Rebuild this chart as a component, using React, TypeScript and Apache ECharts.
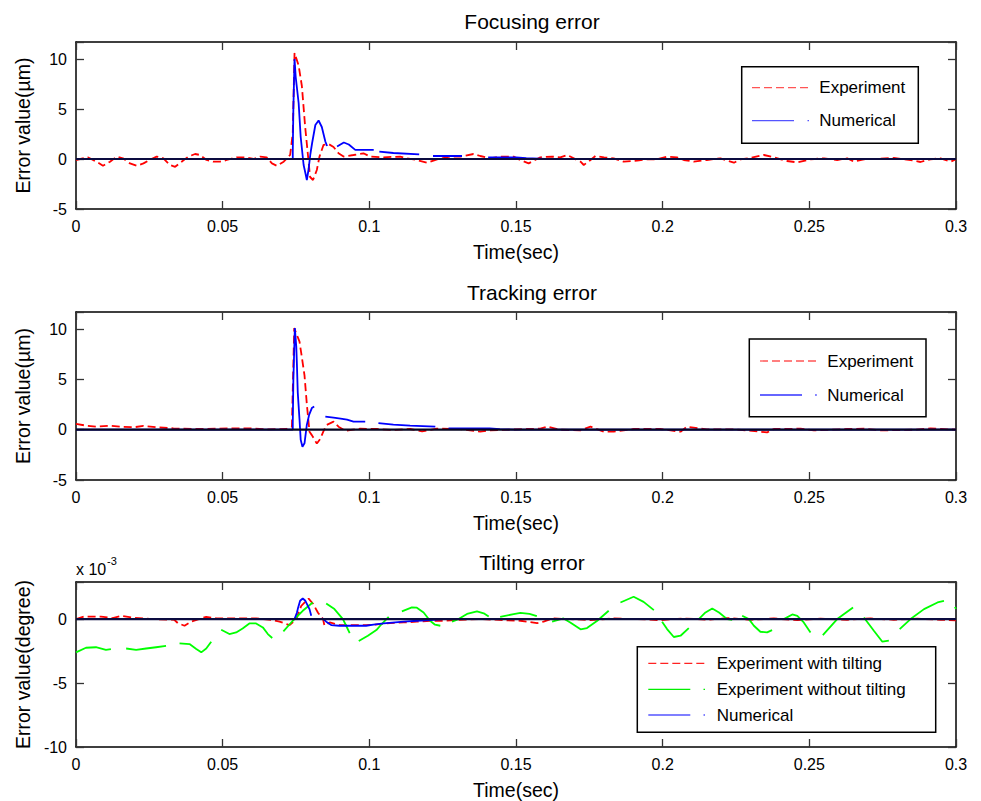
import { useEffect, useRef } from "react";
import * as echarts from "echarts";

const FONT = "'Liberation Sans', Arial, Helvetica, sans-serif";

// time axis (s)
const T_MIN = 0;
const T_MAX = 0.3;
const T_STEP = 0.05;

// y ranges of the three panels
const focusRange = [-5, 11.7];
const trackRange = [-5, 11.7];
const tiltRange = [-10, 2.9]; // in units of 1e-3 degree

const panelTitles = ["Focusing error", "Tracking error", "Tilting error"];
const yNames = ["Error value(\u00b5m)", "Error value(\u00b5m)", "Error value(degree)"];
const xName = "Time(sec)";

type Pt = [number, number] | null; // null = pen lift

// ---- Focusing error ----
const focusExp: Pt[] = [
  [0, -0.1], [0.004, 0.17], [0.007, -0.27], [0.0092, -0.68], [0.0116, -0.27], [0.0139, 0.24],
  [0.016, 0.07], [0.0184, -0.44], [0.0207, -0.68], [0.023, -0.44], [0.025, -0.1], [0.0275, 0.24],
  [0.0298, 0.07], [0.032, -0.6], [0.0338, -0.78], [0.036, -0.27], [0.0383, 0.24], [0.0406, 0.5],
  [0.0423, 0.4], [0.0445, -0.1], [0.0468, -0.27], [0.0491, -0.27], [0.0514, -0.1], [0.0548, 0.17],
  [0.0576, 0.17], [0.0605, 0], [0.0628, 0.24], [0.065, 0.17], [0.0668, -0.44], [0.0685, -0.68],
  [0.0708, -0.27], [0.073, 0.4], [0.0739, 2.6], [0.0745, 10.6], [0.0759, 9.35], [0.077, 7.3],
  [0.0781, 3.3], [0.0789, 0.9], [0.0798, -1.8], [0.0808, -2.1], [0.0821, -1.1], [0.083, 0.24],
  [0.0844, 1.42], [0.0861, 1.5], [0.0878, 1.2], [0.0895, 0.57], [0.0912, 0.24], [0.0946, 0.4],
  [0.098, 0.57], [0.1003, 0.24], [0.1048, 0.17], [0.1105, 0.24], [0.1128, 0.07], [0.1162, -0.1],
  [0.1197, -0.37], [0.1231, -0.03], [0.1276, 0.24], [0.131, 0.24], [0.1355, 0.5], [0.1378, 0.3],
  [0.1412, 0.07], [0.1446, 0.24], [0.1492, 0.24], [0.1514, -0.1], [0.1543, -0.44], [0.1583, 0.17],
  [0.1623, 0.24], [0.1651, 0.17], [0.1674, 0.4], [0.1697, 0.07], [0.172, -0.27], [0.1731, -0.6],
  [0.1754, -0.1], [0.1771, 0.3], [0.18, 0.17], [0.1833, 0.07], [0.1867, -0.27], [0.1913, -0.17],
  [0.1947, -0.03], [0.1981, -0.03], [0.2015, 0.24], [0.2049, 0.17], [0.2072, -0.1], [0.2106, -0.27],
  [0.2151, -0.1], [0.2197, 0.07], [0.2243, -0.37], [0.2265, -0.03], [0.2299, 0.1], [0.2345, 0.4],
  [0.2379, 0.17], [0.2424, -0.2], [0.2459, -0.34], [0.2504, -0.03], [0.255, 0.07], [0.2595, -0.1],
  [0.2629, 0.07], [0.2652, -0.27], [0.2686, -0.03], [0.2743, 0.03], [0.2788, 0.1], [0.2845, -0.1],
  [0.2879, -0.3], [0.2913, -0.03], [0.2947, 0.07], [0.2982, -0.27], [0.3, -0.03],
];

const focusNum: Pt[] = [
  [0, 0], [0.0739, 0], [0.0739, 0.74], [0.0741, 5], [0.0745, 10], [0.0749, 8.2], [0.0759, 5.6],
  [0.0766, 2.2], [0.0776, -0.6], [0.0782, -1.4], [0.0787, -2.1], [0.0793, -1.0], [0.0799, 0.5],
  [0.0805, 1.6], [0.0816, 3.4], [0.0827, 3.85], [0.0838, 3.2], [0.085, 1.75], [0.0856, 1.3], null,
  [0.089, 1.25], [0.0913, 1.65], [0.093, 1.45], [0.0952, 0.91], [0.1015, 0.91], null,
  [0.1034, 0.74], [0.1082, 0.6], [0.117, 0.47], null,
  [0.1217, 0.3], [0.1316, 0.3], null,
  [0.1405, 0.17], [0.15, 0.17], [0.1535, 0.08], [0.16, 0], [0.3, 0],
];

// ---- Tracking error ----
const trackExp: Pt[] = [
  [0, 0.57], [0.0036, 0.4], [0.0072, 0.3], [0.0116, 0.4], [0.015, 0.3], [0.0196, 0.24], [0.023, 0.37],
  [0.0275, 0.24], [0.0332, 0.13], [0.0423, 0.07], [0.0537, 0.13], [0.0605, 0.13], [0.065, 0.03],
  [0.0718, 0.07], [0.0736, 0.3], [0.0744, 10.1], [0.0762, 8.75], [0.077, 7.2], [0.0779, 5.4],
  [0.0787, 2.5], [0.0796, -0.2], [0.0804, -0.54], [0.0821, -1.38], [0.0832, -0.95], [0.0846, 0],
  [0.0855, 0.48], [0.0878, 0.8], [0.0895, 0.3], [0.0918, -0.1], [0.0969, 0.1], [0.1026, 0.07],
  [0.1082, -0.03], [0.1139, 0.07], [0.118, -0.17], [0.123, 0.1], [0.131, 0.07], [0.1378, -0.2],
  [0.141, -0.07], [0.1537, 0.07], [0.1583, 0.1], [0.1606, 0.3], [0.1651, 0], [0.1719, -0.07],
  [0.1754, 0.3], [0.1799, -0.2], [0.1833, -0.2], [0.1902, 0.07], [0.1992, 0.07], [0.2061, -0.2],
  [0.2083, 0.3], [0.2151, 0.03], [0.2243, 0.03], [0.2288, -0.07], [0.2356, -0.27], [0.2379, 0.07],
  [0.247, 0.1], [0.2515, -0.07], [0.2629, 0.07], [0.2686, 0.1], [0.2743, -0.07], [0.2857, 0],
  [0.2913, 0.13], [0.3, 0],
];

const trackNum: Pt[] = [
  [0, 0], [0.0739, 0], [0.0739, 0.65], [0.0741, 4.9], [0.0746, 10.1], [0.0751, 8.25], [0.0753, 6.6],
  [0.0756, 3.7], [0.0762, 1.0], [0.0766, -1.0], [0.0772, -1.7], [0.0779, -1.35], [0.0787, 0.5],
  [0.0795, 1.5], [0.0804, 2.15], [0.0812, 2.3], null,
  [0.085, 1.3], [0.0878, 1.2], [0.0902, 1.1], [0.0924, 1.0], [0.0946, 0.8], [0.0986, 0.8], null,
  [0.1031, 0.65], [0.1082, 0.5], [0.1139, 0.4], [0.1225, 0.3], null,
  [0.127, 0.13], [0.141, 0.13], [0.1445, 0.05], [0.15, 0], [0.3, 0],
];

// ---- Tilting error (x 1e-3 degree) ----
const tiltExpWith: Pt[] = [
  [0, 0], [0.0028, 0.2], [0.0085, 0.2], [0.0125, 0.08], [0.0154, 0.26], [0.02, 0.1], [0.026, 0],
  [0.0335, -0.05], [0.0347, -0.31], [0.037, -0.52], [0.0393, -0.2], [0.0444, 0.18], [0.048, 0.05],
  [0.0535, 0.05], [0.0615, 0.05], [0.0665, -0.05], [0.0694, -0.2], [0.0728, -0.47], [0.0751, 0],
  [0.0768, 1.04], [0.0793, 1.6], [0.0808, 1.2], [0.0825, 0.5], [0.0842, 0], [0.0847, -0.5],
  [0.0865, -0.26], [0.0898, -0.47], [0.0944, -0.47], [0.0989, -0.47], [0.1017, -0.44], [0.1071, -0.31],
  [0.1117, -0.26], [0.1162, -0.2], [0.1208, -0.13], [0.1253, -0.13], [0.131, -0.05], [0.1378, 0],
  [0.1458, -0.08], [0.1515, -0.13], [0.1572, -0.31], [0.1594, -0.2], [0.1623, 0.05], [0.1685, 0],
  [0.1754, -0.08], [0.1833, 0.05], [0.1913, 0], [0.1992, -0.08], [0.2072, 0.05], [0.2151, -0.05],
  [0.222, 0.08], [0.2299, -0.05], [0.2379, 0.05], [0.2459, -0.08], [0.2538, 0.03], [0.2629, -0.05],
  [0.2709, 0.05], [0.2788, -0.05], [0.2868, 0.03], [0.2947, -0.05], [0.3, -0.1],
];

const tiltExpWithout: Pt[] = [
  [0, -2.6], [0.0034, -2.24], [0.0068, -2.2], [0.0102, -2.4], [0.0119, -2.34], null,
  [0.0171, -2.3], [0.0205, -2.4], [0.0239, -2.3], [0.0273, -2.2], [0.0307, -2.1], null,
  [0.0353, -1.9], [0.0387, -1.95], [0.041, -2.34], [0.0427, -2.6], [0.0444, -2.3], [0.0461, -1.77], null,
  [0.0495, -0.83], [0.0523, -1.17], [0.0546, -1.04], [0.0568, -0.73], [0.0591, -0.34], [0.0614, -0.34],
  [0.0637, -0.65], [0.0654, -1.17], [0.0669, -1.48], null,
  [0.0707, -0.96], [0.0739, -0.13], [0.0773, 0.65], [0.0807, 1.3], null,
  [0.0853, 1.22], [0.0881, 0.78], [0.091, 0], [0.0921, -0.52], [0.0933, -1.09], null,
  [0.0964, -1.72], [0.0995, -1.3], [0.1024, -0.86], [0.1037, -0.52], [0.1066, 0.18], null,
  [0.1111, 0.6], [0.1145, 0.91], [0.1162, 0.89], [0.1185, 0.52], [0.1207, -0.13], [0.1224, -0.44],
  [0.1242, -0.52], null,
  [0.1282, -0.2], [0.1304, 0], [0.1333, 0.4], [0.1367, 0.6], [0.139, 0.45], [0.1407, 0.2], null,
  [0.1446, 0.18], [0.1492, 0.39], [0.1515, 0.48], [0.1546, 0.4], [0.1571, 0.23], null,
  [0.1623, -0.2], [0.1662, 0.05], [0.1685, -0.26], [0.172, -0.8], [0.1742, -0.7], [0.1777, -0.13],
  [0.1816, 0.65], null,
  [0.1856, 1.3], [0.1901, 1.75], [0.1935, 1.35], [0.197, 0.7], null,
  [0.1998, -0.2], [0.2015, -0.78], [0.2038, -1.4], [0.2061, -1.3], [0.2089, -0.7], null,
  [0.2123, 0], [0.2146, 0.52], [0.2169, 0.83], [0.2192, 0.52], [0.222, 0], [0.2237, -0.05], null,
  [0.2271, 0.26], [0.2294, 0], [0.2311, -0.52], [0.2333, -0.99], [0.2356, -1.04], [0.2373, -0.86], null,
  [0.2413, 0], [0.2442, 0.36], [0.2459, 0.26], [0.2481, -0.26], [0.2504, -1.04], null,
  [0.2546, -1.25], [0.2595, 0], [0.2649, 0.91], null,
  [0.2686, 0.13], [0.272, -0.91], [0.2749, -1.77], [0.2771, -1.69], null,
  [0.2808, -0.78], [0.2845, 0], [0.2891, 0.78], [0.2937, 1.3], [0.2959, 1.43], null,
  [0.2996, 0.95], [0.3, 0.8],
];

const tiltNum: Pt[] = [
  [0, 0], [0.0745, 0], [0.0753, 0.5], [0.0756, 0.78], [0.0764, 1.43], [0.0773, 1.61], [0.0782, 1.43],
  [0.0796, 0.78], [0.0802, 0.26], null,
  [0.0839, 0.08], [0.0853, -0.2], [0.087, -0.47], [0.0898, -0.52], [0.0944, -0.52], [0.0989, -0.52],
  [0.1014, -0.44], [0.1049, -0.34], [0.1117, -0.2], [0.1162, -0.13], [0.1208, -0.08], [0.1253, 0],
  [0.3, 0],
];

const zeroLine: Pt[] = [[T_MIN, 0], [T_MAX, 0]];

const RED = "#ff0000";
const BLUE = "#0000ff";
const GREEN = "#00ff00";

// pen lifts become line breaks
function toSeriesData(pts: Pt[]) {
  const out: any[] = [];
  let lastT = 0;
  for (const p of pts) {
    if (p === null) out.push([lastT, "-"]);
    else {
      out.push(p);
      lastT = p[0];
    }
  }
  return out;
}

const grids = [
  { left: 76, top: 42, width: 880, height: 167 },
  { left: 76, top: 312, width: 880, height: 168 },
  { left: 76, top: 582, width: 880, height: 165 },
];
const ranges = [focusRange, trackRange, tiltRange];

function legendBox(
  box: { x: number; y: number; w: number; h: number },
  lineX1: number,
  lineX2: number,
  textX: number,
  rows: { y: number; label: string; color: string; kind: "dash" | "dashdot" }[]
) {
  const els: any[] = [
    {
      type: "rect",
      shape: { x: box.x, y: box.y, width: box.w, height: box.h },
      style: { fill: "#fff", stroke: "#000", lineWidth: 1.5 },
      z: 100,
    },
  ];
  for (const r of rows) {
    if (r.kind === "dash") {
      els.push({
        type: "line",
        shape: { x1: lineX1, y1: r.y, x2: lineX2, y2: r.y },
        style: { stroke: r.color, lineWidth: 1.3, lineDash: [8, 4] },
        z: 101,
      });
    } else {
      els.push({
        type: "line",
        shape: { x1: lineX1, y1: r.y, x2: lineX1 + 42, y2: r.y },
        style: { stroke: r.color, lineWidth: 1.3 },
        z: 101,
      });
      els.push({
        type: "line",
        shape: { x1: lineX2 - 1.5, y1: r.y, x2: lineX2, y2: r.y },
        style: { stroke: r.color, lineWidth: 1.3 },
        z: 101,
      });
    }
    els.push({
      type: "text",
      x: textX,
      y: r.y,
      style: {
        text: r.label,
        font: `17px ${FONT}`,
        fill: "#000",
        textAlign: "left",
        textVerticalAlign: "middle",
        align: "left",
        verticalAlign: "middle",
      },
      z: 101,
    });
  }
  return els;
}

export default function App() {
  const ref = useRef<HTMLDivElement>(null);

  useEffect(() => {
    if (!ref.current) return;
    const chart = echarts.init(ref.current, null, { renderer: "svg" });

    const xAxes: any[] = [];
    const yAxes: any[] = [];
    grids.forEach((_, i) => {
      xAxes.push({
        type: "value",
        gridIndex: i,
        position: "bottom",
        min: T_MIN,
        max: T_MAX,
        interval: T_STEP,
        name: xName,
        nameLocation: "middle",
        nameGap: 33,
        nameTextStyle: { fontSize: 19.5, color: "#000", fontFamily: FONT },
        axisLine: { show: true, onZero: false, lineStyle: { color: "#000", width: 1.5 } },
        axisTick: { show: true, inside: true, length: 8, lineStyle: { color: "#333", width: 1.3 } },
        axisLabel: {
          show: true,
          margin: 9,
          fontSize: 16,
          color: "#000",
          fontFamily: FONT,
          formatter: (v: number) => String(Number(v.toFixed(2))),
        },
        splitLine: { show: false },
      });
    });
    grids.forEach((_, i) => {
      xAxes.push({
        type: "value",
        gridIndex: i,
        position: "top",
        min: T_MIN,
        max: T_MAX,
        interval: T_STEP,
        axisLine: { show: true, onZero: false, lineStyle: { color: "#000", width: 1.5 } },
        axisTick: { show: true, inside: true, length: 8, lineStyle: { color: "#333", width: 1.3 } },
        axisLabel: { show: false },
        splitLine: { show: false },
      });
    });
    grids.forEach((_, i) => {
      yAxes.push({
        type: "value",
        gridIndex: i,
        position: "left",
        min: ranges[i][0],
        max: ranges[i][1],
        interval: 5,
        name: yNames[i],
        nameLocation: "middle",
        nameGap: 43,
        nameTextStyle: { fontSize: 19.5, color: "#000", fontFamily: FONT },
        axisLine: { show: true, onZero: false, lineStyle: { color: "#000", width: 1.5 } },
        axisTick: { show: true, inside: true, length: 8, lineStyle: { color: "#333", width: 1.3 } },
        axisLabel: {
          show: true,
          margin: 9,
          fontSize: 16,
          color: "#000",
          fontFamily: FONT,
          formatter: (v: number) => (Math.abs(v % 5) < 1e-9 ? String(v) : ""),
        },
        splitLine: { show: false },
      });
    });
    grids.forEach((_, i) => {
      yAxes.push({
        type: "value",
        gridIndex: i,
        position: "right",
        min: ranges[i][0],
        max: ranges[i][1],
        interval: 5,
        axisLine: { show: true, onZero: false, lineStyle: { color: "#000", width: 1.5 } },
        axisTick: { show: true, inside: true, length: 8, lineStyle: { color: "#333", width: 1.3 } },
        axisLabel: { show: false },
        splitLine: { show: false },
      });
    });

    const line = (name: string, data: Pt[], idx: number, color: string, width: number, dash?: number[]) => ({
      name,
      type: "line",
      xAxisIndex: idx,
      yAxisIndex: idx,
      data: toSeriesData(data),
      showSymbol: false,
      symbol: "none",
      connectNulls: false,
      lineStyle: { color, width, type: dash ? dash : "solid", cap: "butt" },
      silent: true,
    });

    const series = [
      line("Experiment", focusExp, 0, RED, 1.8, [8, 4]),
      line("Numerical", focusNum, 0, BLUE, 1.8),
      line("zero", zeroLine, 0, "#0c0c40", 2.2),
      line("Experiment", trackExp, 1, RED, 1.8, [8, 4]),
      line("Numerical", trackNum, 1, BLUE, 1.8),
      line("zero", zeroLine, 1, "#050520", 2.2),
      line("Experiment with tilting", tiltExpWith, 2, RED, 1.8, [8, 4]),
      line("Experiment without tilting", tiltExpWithout, 2, GREEN, 1.8),
      line("Numerical", tiltNum, 2, BLUE, 1.8),
      line("zero", zeroLine, 2, "#0c0c40", 2.2),
    ];

    const titles = panelTitles.map((t, i) => ({
      text: t,
      left: 527,
      top: [6, 277, 547][i],
      textAlign: "center",
      textStyle: { fontSize: 21, fontWeight: "normal", color: "#000", fontFamily: FONT },
    }));

    const graphic: any[] = [
      ...legendBox({ x: 741.7, y: 66.7, w: 176.6, h: 76.6 }, 752, 809, 819.3, [
        { y: 87.7, label: "Experiment", color: "#ff5555", kind: "dash" },
        { y: 120.7, label: "Numerical", color: "#5555ff", kind: "dashdot" },
      ]),
      ...legendBox({ x: 749.3, y: 339, w: 176.7, h: 77.7 }, 760, 816.7, 827.3, [
        { y: 361, label: "Experiment", color: "#ff5555", kind: "dash" },
        { y: 395, label: "Numerical", color: "#3333ff", kind: "dashdot" },
      ]),
      ...legendBox({ x: 637.3, y: 646.7, w: 298.4, h: 85.6 }, 648.3, 705, 716.7, [
        { y: 663.3, label: "Experiment with tilting", color: "#ff2222", kind: "dash" },
        { y: 689.3, label: "Experiment without tilting", color: "#00ee00", kind: "dashdot" },
        { y: 715, label: "Numerical", color: "#5555ff", kind: "dashdot" },
      ]),
      {
        type: "text",
        x: 76,
        y: 569,
        style: {
          text: "x 10",
          font: `16px ${FONT}`,
          fill: "#000",
          textAlign: "left",
          textVerticalAlign: "middle",
          align: "left",
          verticalAlign: "middle",
        },
      },
      {
        type: "text",
        x: 107,
        y: 561,
        style: {
          text: "-3",
          font: `11px ${FONT}`,
          fill: "#000",
          textAlign: "left",
          textVerticalAlign: "middle",
          align: "left",
          verticalAlign: "middle",
        },
      },
    ];

    chart.setOption({
      animation: false,
      backgroundColor: "#fff",
      title: titles,
      grid: grids,
      xAxis: xAxes,
      yAxis: yAxes,
      series,
      graphic,
    });

    return () => chart.dispose();
  }, []);

  return (
    <div
      ref={ref}
      style={{ position: "fixed", left: 0, top: 0, width: 981, height: 801, background: "#fff" }}
    />
  );
}
